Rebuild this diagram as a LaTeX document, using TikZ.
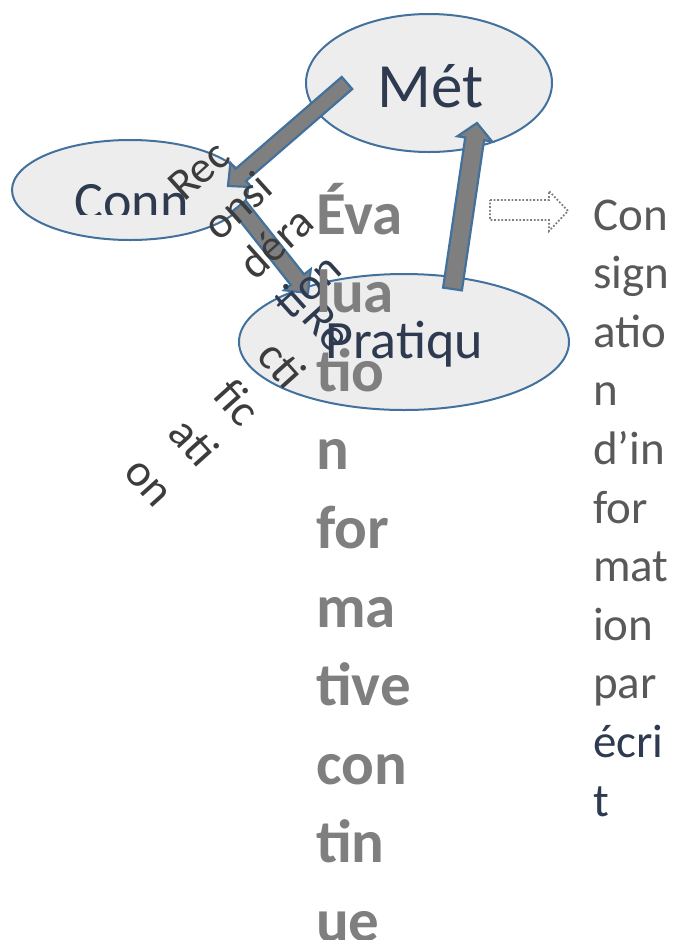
\documentclass[tikz,border=0pt]{standalone}
\usepackage{fontspec}
\setmainfont{Carlito}
\usetikzlibrary{calc,shapes.geometric}

\definecolor{bubblefill}{HTML}{EDEDED}
\definecolor{bubbleline}{HTML}{41719C}
\definecolor{arrowgray}{HTML}{7F7F7F}
\definecolor{navytext}{HTML}{2D3A4F}
\definecolor{darktext}{HTML}{3C3C3C}
\definecolor{sidetext}{HTML}{595959}
\definecolor{boldgray}{HTML}{7F7F7F}

% block arrow: #1 tail, #2 tip, #3 shaft half width, #4 head half width, #5 head length
\newcommand{\fatarrow}[5]{%
  \coordinate (fa-base) at ($(#2)!#5!(#1)$);
  \draw[arrowbody]
    ($(#1)!#3!90:(#2)$) -- ($(fa-base)!#3!-90:(#1)$) -- ($(fa-base)!#4!-90:(#1)$)
    -- (#2) -- ($(fa-base)!#4!90:(#1)$) -- ($(fa-base)!#3!90:(#1)$)
    -- ($(#1)!#3!-90:(#2)$) -- cycle;
}

\begin{document}
\begin{tikzpicture}[x=1pt,y=-1pt,
  bubble/.style={ellipse, draw=bubbleline, fill=bubblefill, line width=2pt, inner sep=0pt},
  arrowbody/.style={fill=arrowgray, draw=bubbleline, line width=2.2pt, line join=miter},
  bubbletext/.style={text=navytext, inner sep=0pt, anchor=base},
  boldcol/.style={text=boldgray, inner sep=0pt, anchor=base west, font=\fontsize{61}{72}\selectfont\bfseries},
  sidecol/.style={inner sep=0pt, anchor=base west, font=\fontsize{47}{56}\selectfont},
  turned/.style={inner sep=0pt, anchor=base west},
  hollowarrow/.style={draw=arrowgray, line width=1.8pt, dash pattern=on 1.8pt off 1.8pt, line join=miter}]

\useasboundingbox (0,0) rectangle (673,940);

% the three bubbles
\node[bubble, minimum width=246pt, minimum height=138pt] (met) at (429,83) {};
\node[bubble, minimum width=236pt, minimum height=100pt] (conn) at (130,190) {};
\node[bubble, minimum width=330pt, minimum height=136pt] (prat) at (404,342) {};

% bubble labels
\node[bubbletext, font=\fontsize{63}{75}\selectfont] (met-t) at (430.5,107) {Mét};
\begin{scope}
  \clip (0,0) rectangle (673,214);
  \node[bubbletext, font=\fontsize{54}{64}\selectfont] (conn-t) at (131.5,219) {Conn};
\end{scope}
\node[bubbletext, font=\fontsize{54}{64}\selectfont] (prat-t) at (404,358) {Pratiqu};

% cycle arrows
\coordinate (a1-tail) at (347,83);    \coordinate (a1-tip) at (228,186);
\coordinate (a2-tail) at (239,206);   \coordinate (a2-tip) at (308,293);
\coordinate (a3-tail) at (452.5,289); \coordinate (a3-tip) at (477,123);
\fatarrow{a1-tail}{a1-tip}{8pt}{16pt}{17pt}
\fatarrow{a2-tail}{a2-tip}{8.5pt}{17pt}{17pt}
\fatarrow{a3-tail}{a3-tip}{9.5pt}{17.5pt}{16pt}

% dotted outline arrow
\draw[hollowarrow] (490,200) -- (549,200) -- (549,191) -- (568,211)
  -- (549,231) -- (549,220) -- (490,220) -- cycle;

% rotated arrow labels
\foreach \w/\c [count=\i] in {Rec/darktext,onsi/darktext,déra/darktext,tion/navytext}
  \node[turned, rotate=42, text=\c, font=\fontsize{45}{54}\selectfont] (rc\i)
    at ({184+(\i-1)*35.5},{203+(\i-1)*39.4}) {\w};
\foreach \w/\c [count=\i] in {Re/navytext,cti/darktext,fic/darktext,ati/darktext,on/darktext}
  \node[turned, rotate=-48, text=\c, font=\fontsize{46}{55}\selectfont] (rf\i)
    at ({300-(\i-1)*44.5},{319+(\i-1)*38.5}) {\w};

% bold column
\foreach \w [count=\i] in {Éva,lua,tio,n,for,ma,tive,con,tin,ue}
  \node[boldcol] (ev\i) at (316,{234+(\i-1)*78.6}) {\w};

% right column
\foreach \w/\c [count=\i] in {Con/sidetext,sign/sidetext,atio/sidetext,n/sidetext,d’in/sidetext,for/sidetext,mat/sidetext,ion/sidetext,par/sidetext,écri/navytext,t/navytext}
  \node[sidecol, text=\c] (cs\i) at (593,{230+(\i-1)*58.6}) {\w};

\end{tikzpicture}
\end{document}
